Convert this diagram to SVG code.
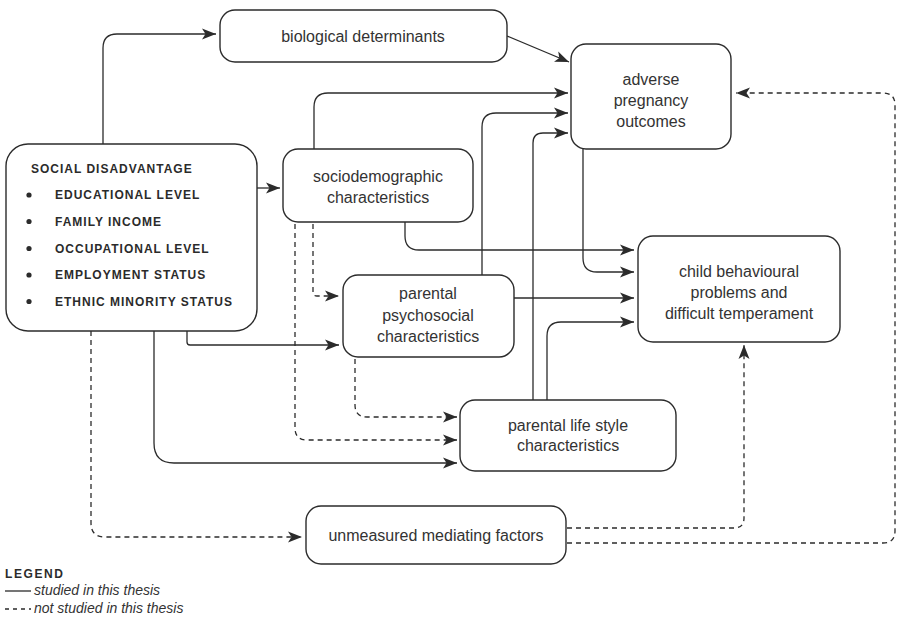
<svg xmlns="http://www.w3.org/2000/svg" width="903" height="624" viewBox="0 0 903 624">
<style>
.box{fill:#fff;stroke:#2b2b2b;stroke-width:1.4}
.t{font-family:"Liberation Sans",Arial,sans-serif;font-size:16px;fill:#333;text-anchor:middle}
.c{font-family:"Liberation Sans",Arial,sans-serif;font-size:12px;font-weight:bold;fill:#2b2b2b;letter-spacing:1px}
.lg{font-family:"Liberation Sans",Arial,sans-serif;font-size:14px;font-style:italic;fill:#333}
.ln{fill:none;stroke:#2b2b2b;stroke-width:1.3}
.ln.d{stroke-dasharray:5 4}
</style>
<defs>
<marker id="ah" markerUnits="userSpaceOnUse" markerWidth="15" markerHeight="13" refX="14" refY="6.5" orient="auto">
<path d="M0,1 L14,6.5 L0,12 L3.5,6.5 z" fill="#2b2b2b"/>
</marker>
</defs>
<g id="connectors">
<path class="ln" d="M103,144 V48 Q103,34 117,34 H216" marker-end="url(#ah)"/>
<path class="ln" d="M507,36 L569,62" marker-end="url(#ah)"/>
<path class="ln" d="M314,149 V107 Q314,93 328,93 H568" marker-end="url(#ah)"/>
<path class="ln" d="M482,275 V127 Q482,113 496,113 H568" marker-end="url(#ah)"/>
<path class="ln" d="M533,400 V143 Q533,133 543,133 H568" marker-end="url(#ah)"/>
<path class="ln" d="M405,222 V236 Q405,250 419,250 H634" marker-end="url(#ah)"/>
<path class="ln" d="M583,149 V258 Q583,272 597,272 H634" marker-end="url(#ah)"/>
<path class="ln" d="M514,298 H634" marker-end="url(#ah)"/>
<path class="ln" d="M547,400 V336 Q547,322 561,322 H634" marker-end="url(#ah)"/>
<path class="ln" d="M257,188 H280" marker-end="url(#ah)"/>
<path class="ln" d="M187,331 V342 Q187,345 190,345 H339" marker-end="url(#ah)"/>
<path class="ln" d="M154,331 V443 Q154,463 174,463 H457" marker-end="url(#ah)"/>
<path class="ln d" d="M91,331 V523 Q91,537 105,537 H302" marker-end="url(#ah)"/>
<path class="ln d" d="M313,224 V292 Q313,296 317,296 H339" marker-end="url(#ah)"/>
<path class="ln d" d="M295,224 V428 Q295,440 307,440 H457" marker-end="url(#ah)"/>
<path class="ln d" d="M355,359 V405 Q355,417 367,417 H457" marker-end="url(#ah)"/>
<path class="ln d" d="M567,528 H734 Q744,528 744,518 V345" marker-end="url(#ah)"/>
<path class="ln d" d="M567,543 H883 Q895,543 895,531 V105 Q895,93 883,93 H736" marker-end="url(#ah)"/>
</g>
<g id="biological">
<rect class="box" x="220" y="10" width="287" height="52" rx="15"/>
<text class="t" x="363" y="42">biological determinants</text>
</g>
<g id="adverse">
<rect class="box" x="571" y="44" width="160" height="105" rx="15"/>
<text class="t" x="651" y="85">adverse</text>
<text class="t" x="651" y="106">pregnancy</text>
<text class="t" x="651" y="127">outcomes</text>
</g>
<g id="social">
<rect class="box" x="6" y="144" width="251" height="187" rx="22"/>
<text class="c" x="31" y="173">SOCIAL DISADVANTAGE</text>
<circle cx="29" cy="195" r="2.6" fill="#2b2b2b"/>
<text class="c" x="55" y="199">EDUCATIONAL LEVEL</text>
<circle cx="29" cy="221.5" r="2.6" fill="#2b2b2b"/>
<text class="c" x="55" y="225.5">FAMILY INCOME</text>
<circle cx="29" cy="248.5" r="2.6" fill="#2b2b2b"/>
<text class="c" x="55" y="252.5">OCCUPATIONAL LEVEL</text>
<circle cx="29" cy="275" r="2.6" fill="#2b2b2b"/>
<text class="c" x="55" y="279">EMPLOYMENT STATUS</text>
<circle cx="29" cy="301.5" r="2.6" fill="#2b2b2b"/>
<text class="c" x="55" y="305.5">ETHNIC MINORITY STATUS</text>
</g>
<g id="sociodemographic">
<rect class="box" x="283" y="149" width="190" height="73" rx="15"/>
<text class="t" x="378" y="182">sociodemographic</text>
<text class="t" x="378" y="203">characteristics</text>
</g>
<g id="psychosocial">
<rect class="box" x="343" y="275" width="171" height="82" rx="15"/>
<text class="t" x="428" y="299">parental</text>
<text class="t" x="428" y="321">psychosocial</text>
<text class="t" x="428" y="342">characteristics</text>
</g>
<g id="child">
<rect class="box" x="638" y="236" width="202" height="106" rx="15"/>
<text class="t" x="739" y="277">child behavioural</text>
<text class="t" x="739" y="298">problems and</text>
<text class="t" x="739" y="319">difficult temperament</text>
</g>
<g id="lifestyle">
<rect class="box" x="460" y="400" width="216" height="71" rx="15"/>
<text class="t" x="568" y="431">parental life style</text>
<text class="t" x="568" y="451">characteristics</text>
</g>
<g id="unmeasured">
<rect class="box" x="306" y="506" width="260" height="58" rx="15"/>
<text class="t" x="436" y="541">unmeasured mediating factors</text>
</g>
<g id="legend">
<text class="c" x="5" y="578" style="letter-spacing:1.6px">LEGEND</text>
<line class="ln" x1="5" y1="591" x2="31" y2="591"/>
<text class="lg" x="34" y="595">studied in this thesis</text>
<line class="ln d" x1="5" y1="609" x2="31" y2="609" style="stroke-dasharray:4 4"/>
<text class="lg" x="34" y="613">not studied in this thesis</text>
</g>
</svg>
